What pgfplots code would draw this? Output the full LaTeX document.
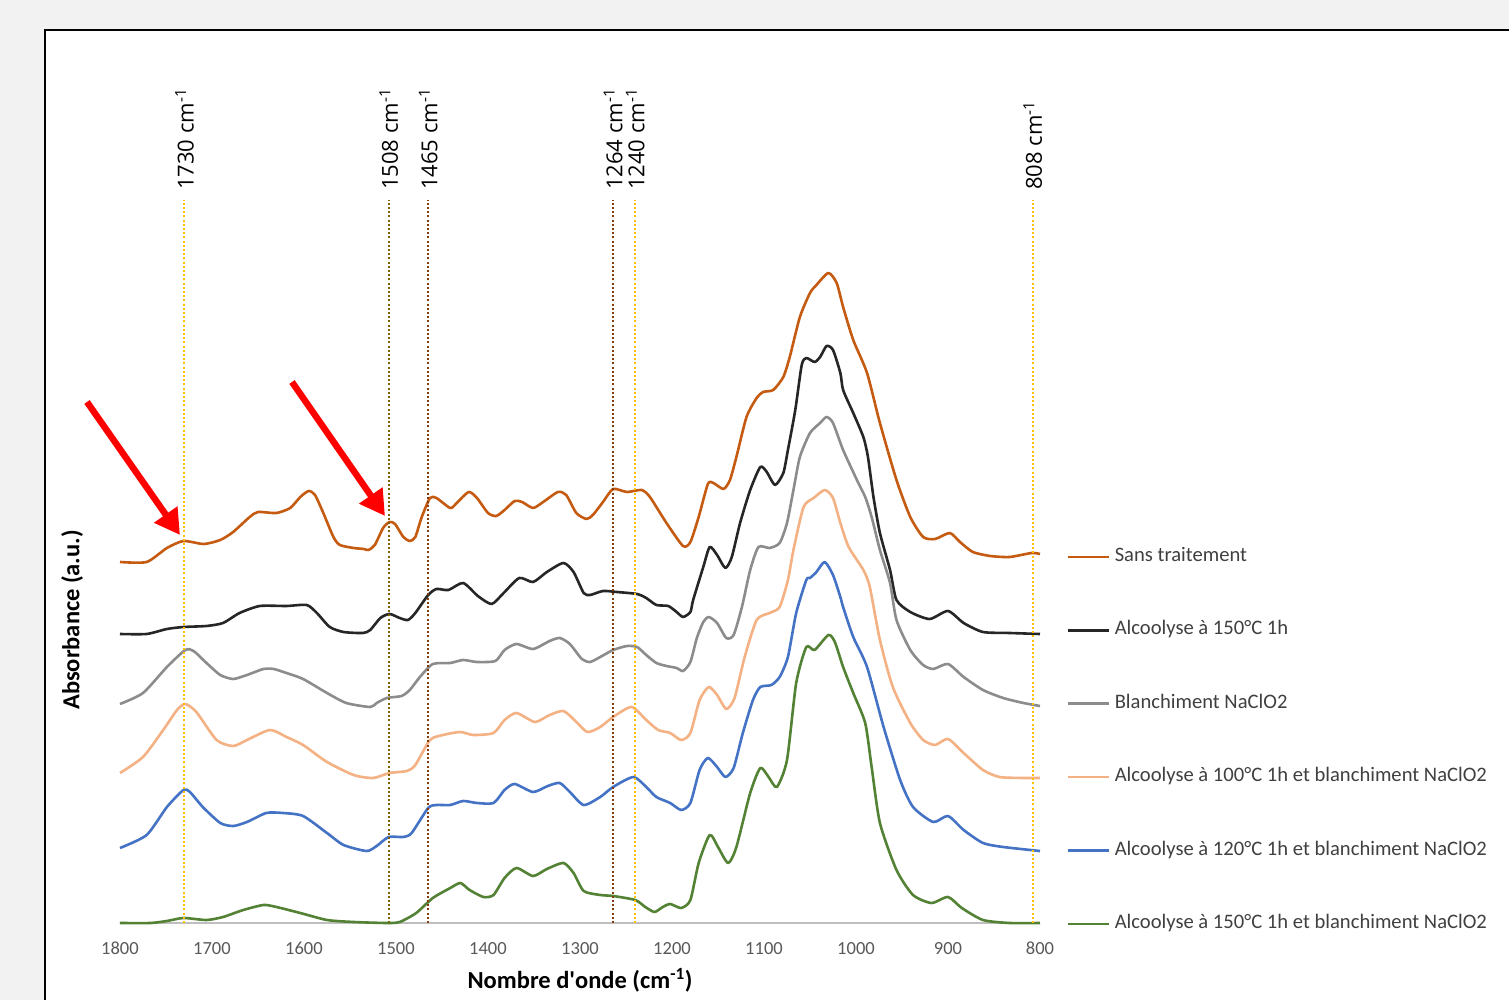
\documentclass[border=0pt]{standalone}
\usepackage{fontspec}
\setmainfont{Carlito}
\newfontfamily\peakfont{Open Sans}
\usepackage{pgfplots}
\pgfplotsset{compat=1.18}
\usetikzlibrary{arrows.meta}

\definecolor{cOrange}{HTML}{C55A11}
\definecolor{cBlack}{HTML}{262626}
\definecolor{cGrey}{HTML}{8C8C8C}
\definecolor{cPeach}{HTML}{F4B183}
\definecolor{cBlue}{HTML}{4472C4}
\definecolor{cGreen}{HTML}{548235}
\definecolor{cGold}{HTML}{FFC000}
\definecolor{cOlive}{HTML}{7F6000}
\definecolor{cBrown}{HTML}{843C0C}
\definecolor{bgGrey}{HTML}{F2F2F2}
\definecolor{tickGrey}{HTML}{595959}
\definecolor{legGrey}{HTML}{404040}
\definecolor{axGrey}{HTML}{BFBFBF}

\newcommand\tickfont{\fontsize{18.5}{21}\selectfont}
\newcommand\legfont{\fontsize{20.6}{23}\selectfont}
\newcommand\titlefont{\fontsize{24.5}{27}\selectfont\bfseries}
\newcommand\pkfont{\fontsize{22}{24}\selectfont\peakfont}

\begin{document}
\begin{tikzpicture}[x=1pt,y=1pt]
\useasboundingbox (0,0) rectangle (1509,1000);
\fill[bgGrey] (0,0) rectangle (1509,1000);
\fill[white] (45,-5) rectangle (1520,970);
\draw[black, line width=2pt] (45,-5) -- (45,970) -- (1520,970);

\begin{axis}[
  at={(580pt,438.5pt)}, anchor=center,
  scale only axis, width=920pt, height=723pt,
  x dir=reverse, xmin=800, xmax=1800, ymin=0, ymax=723,
  clip=false,
  axis x line*=bottom, axis y line=none,
  x axis line style={draw=axGrey, line width=1.3pt},
  xtick={800,900,...,1800}, major tick length=0pt,
  /pgf/number format/assume math mode=true,
  /pgf/number format/1000 sep={},
  xticklabel style={font=\tickfont, text=tickGrey, anchor=north, inner sep=0pt, yshift=-19pt},
  legend cell align=left,
  legend image code/.code={\draw[#1, line width=2.6pt] (0pt,4.5pt) -- (41pt,4.5pt);},
  legend style={at={(axis cs:770.7,182)}, anchor=west, draw=none, fill=none,
    font=\legfont, text=legGrey, row sep=57.4pt, column sep=4pt, inner sep=0pt,
    nodes={inner sep=0pt, text height=12pt, text depth=4pt, anchor=base west}},
  spec/.style={line width=2.6pt, line join=round, smooth, tension=0.4},
  marker/.style={forget plot, sharp plot, line width=2.2pt, dash pattern=on 2pt off 2.2pt},
]

% Sans traitement
\addplot[spec, cOrange] coordinates {
(1800,361)(1771,361)(1749,375)(1731,382)(1709,379)(1691,383)(1677,391)(1659,406)
(1650,411)(1630,410)(1615,415)(1604,426)(1595,432)(1588,428)(1579,410)(1568,386)
(1561,378)(1546,375)(1535,374)(1530,373)(1523,378)(1514,395)(1507,401)(1501,399)
(1492,386)(1485,382)(1479,386)(1472,406)(1463,425)(1456,425)(1441,415)(1434,420)
(1421,431)(1412,425)(1400,410)(1391,407)(1382,413)(1371,422)(1363,421)(1351,415)
(1340,421)(1324,431)(1315,428)(1304,410)(1293,404)(1286,408)(1275,421)(1264,434)
(1249,431)(1233,433)(1224,426)(1206,400)(1188,377)(1180,381)(1171,406)(1161,439)
(1155,440)(1144,434)(1137,443)(1130,466)(1119,506)(1108,525)(1101,531)(1090,533)
(1079,546)(1072,566)(1061,606)(1050,630)(1043,638)(1030,650)(1021,640)(1014,616)
(1003,583)(988,550)(974,500)(956,443)(941,406)(927,386)(914,384)(898,390)
(887,381)(873,371)(854,367)(833,366)(809,370)(800,369)};
\addlegendentry{Sans traitement}

% Alcoolyse 150 C 1h
\addplot[spec, cBlack] coordinates {
(1800,289)(1771,289)(1749,294)(1731,296)(1706,297)(1688,300)(1670,310)(1648,317)
(1619,317)(1597,318)(1586,310)(1572,296)(1557,291)(1536,290)(1528,293)(1517,305)
(1507,309)(1496,305)(1487,303)(1479,310)(1465,328)(1456,334)(1443,333)(1427,340)
(1411,327)(1396,319)(1383,330)(1366,345)(1351,341)(1336,351)(1318,360)(1307,351)
(1296,330)(1289,328)(1275,332)(1260,331)(1238,329)(1228,325)(1217,318)(1204,317)
(1195,311)(1188,306)(1180,311)(1177,323)(1166,356)(1159,376)(1151,368)(1142,355)
(1135,366)(1126,400)(1115,433)(1104,456)(1097,451)(1088,438)(1079,450)(1074,473)
(1066,513)(1059,558)(1054,565)(1045,561)(1039,566)(1032,577)(1025,573)(1017,550)
(1014,533)(1003,510)(992,486)(987,466)(981,426)(974,390)(963,353)(956,323)
(941,311)(920,304)(900,312)(883,300)(862,291)(833,290)(800,289)};
\addlegendentry{Alcoolyse à 150°C 1h}

% Blanchiment
\addplot[spec, cGrey] coordinates {
(1800,219)(1775,230)(1749,256)(1729,273)(1720,272)(1706,260)(1691,248)(1677,244)
(1662,248)(1644,254)(1633,254)(1619,250)(1601,244)(1575,230)(1554,220)(1528,216)
(1521,220)(1510,225)(1494,227)(1485,233)(1474,246)(1460,259)(1441,260)(1427,263)
(1412,261)(1392,262)(1382,273)(1369,279)(1351,274)(1333,282)(1322,285)(1311,279)
(1298,264)(1289,261)(1278,266)(1264,273)(1249,277)(1238,276)(1228,268)(1217,260)
(1206,257)(1195,255)(1188,252)(1180,261)(1173,285)(1166,301)(1160,306)(1151,300)
(1141,285)(1133,288)(1124,316)(1115,353)(1106,376)(1094,375)(1083,380)(1075,400)
(1068,433)(1061,466)(1050,490)(1039,500)(1032,506)(1025,500)(1014,473)(999,443)
(990,426)(983,406)(974,373)(963,340)(956,303)(941,273)(927,258)(916,254)
(900,259)(883,246)(862,233)(840,225)(818,220)(800,217)};
\addlegendentry{Blanchiment NaClO2}

% Alcoolyse 100 C + blanchiment
\addplot[spec, cPeach] coordinates {
(1800,150)(1775,166)(1753,193)(1738,213)(1729,219)(1717,211)(1695,183)(1677,177)
(1662,183)(1637,193)(1619,186)(1601,178)(1575,161)(1546,148)(1525,145)(1507,150)
(1488,152)(1479,158)(1463,183)(1449,188)(1430,191)(1416,188)(1394,190)(1382,203)
(1369,210)(1349,201)(1333,208)(1318,212)(1305,202)(1292,191)(1278,196)(1264,206)
(1244,216)(1228,203)(1215,193)(1202,190)(1190,183)(1180,190)(1170,223)(1160,236)
(1151,228)(1141,214)(1132,225)(1121,266)(1108,303)(1094,310)(1083,316)(1074,343)
(1068,373)(1057,416)(1046,425)(1034,433)(1025,425)(1017,400)(1008,376)(992,353)
(985,336)(974,283)(960,236)(941,200)(927,183)(914,178)(900,184)(883,170)
(862,153)(844,146)(818,145)(800,145)};
\addlegendentry{Alcoolyse à 100°C 1h et blanchiment NaClO2}

% Alcoolyse 120 C + blanchiment
\addplot[spec, cBlue] coordinates {
(1800,75)(1771,88)(1749,116)(1731,133)(1724,131)(1710,116)(1691,100)(1677,97)
(1662,101)(1641,110)(1623,110)(1601,107)(1575,90)(1557,78)(1532,72)(1521,77)
(1508,86)(1492,86)(1483,90)(1465,115)(1456,118)(1441,118)(1427,122)(1412,120)
(1394,120)(1382,133)(1371,139)(1351,131)(1335,137)(1322,140)(1311,131)(1296,118)
(1278,126)(1264,136)(1242,146)(1228,136)(1217,126)(1202,120)(1190,113)(1180,120)
(1170,153)(1161,165)(1151,156)(1142,146)(1133,155)(1123,190)(1112,223)(1104,236)
(1092,238)(1083,246)(1074,266)(1065,310)(1054,343)(1050,345)(1043,351)(1034,361)
(1025,348)(1017,326)(1014,316)(1003,286)(988,256)(970,196)(952,143)(938,116)
(916,101)(900,107)(883,93)(862,80)(840,76)(800,72)};
\addlegendentry{Alcoolyse à 120°C 1h et blanchiment NaClO2}

% Alcoolyse 150 C + blanchiment
\addplot[spec, cGreen] coordinates {
(1800,0)(1767,0)(1749,2)(1731,5)(1706,3)(1688,6)(1666,13)(1644,18)
(1630,16)(1604,10)(1575,3)(1546,1)(1510,0)(1496,1)(1478,10)(1460,25)
(1441,35)(1430,40)(1420,33)(1405,26)(1394,28)(1382,45)(1369,55)(1351,47)
(1336,54)(1318,60)(1307,50)(1296,32)(1278,28)(1264,27)(1240,23)(1229,16)
(1219,11)(1210,16)(1202,19)(1190,15)(1180,23)(1171,60)(1159,88)(1150,76)
(1139,60)(1130,76)(1115,130)(1104,155)(1095,146)(1086,136)(1075,163)(1065,240)
(1054,276)(1045,273)(1030,288)(1023,281)(1014,256)(1003,230)(990,200)(983,156)
(974,100)(956,53)(938,28)(918,20)(900,26)(885,15)(862,3)(833,0)(800,0)};
\addlegendentry{Alcoolyse à 150°C 1h et blanchiment NaClO2}

% marker lines
\addplot[marker, cGold] coordinates {(1730,0)(1730,723)};
\addplot[marker, cOlive] coordinates {(1508,0)(1508,723)};
\addplot[marker, cBrown] coordinates {(1465,0)(1465,723)};
\addplot[marker, cBrown] coordinates {(1264,0)(1264,723)};
\addplot[marker, cGold] coordinates {(1240,0)(1240,723)};
\addplot[marker, cGold] coordinates {(808,0)(808,723)};

\foreach \w in {1730,1508,1465,1264,1240,808}{
  \edef\tmp{\noexpand\node[rotate=90, anchor=west, inner sep=0pt, font=\noexpand\pkfont]
    at (axis cs:\w,733) {\w\space cm\noexpand\textsuperscript{-1}};}
  \tmp
}

\node[rotate=90, font=\titlefont] at (axis cs:1852,303) {Absorbance (a.u.)};
\node[font=\titlefont] at (axis cs:1300,-57) {Nombre d\textquotesingle onde (cm\textsuperscript{-1})};
\end{axis}

\draw[red, line width=6.5pt, -{Triangle[length=25pt, width=27pt]}] (87,598) -- (180,465);
\draw[red, line width=6.5pt, -{Triangle[length=25pt, width=27pt]}] (292,618) -- (385,484);
\end{tikzpicture}
\end{document}
